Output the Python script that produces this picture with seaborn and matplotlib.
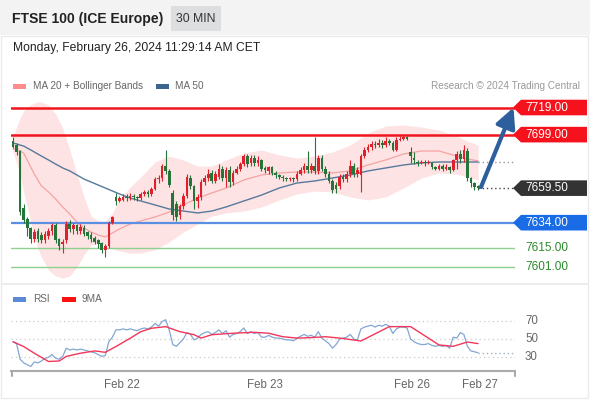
import numpy as np
import pandas as pd
import matplotlib
matplotlib.use("Agg")
import matplotlib.pyplot as plt
import seaborn as sns
from matplotlib.patches import Rectangle, Polygon
from matplotlib.transforms import blended_transform_factory

sns.set_theme(style="white")
plt.rcParams['font.family'] = ['Liberation Sans', 'DejaVu Sans']

# ---------------- data ----------------
opens = [7694, 7691, 7687, 7645, 7637, 7630, 7622, 7628, 7625, 7621,
         7624, 7628, 7632, 7622, 7618, 7621, 7633, 7629, 7632, 7628,
         7630, 7627, 7625, 7623, 7621, 7619, 7614, 7617, 7634, 7653,
         7650, 7651, 7653, 7652, 7654, 7653, 7652, 7655, 7657, 7655,
         7659, 7666, 7667, 7676, 7672, 7656, 7648, 7640, 7646, 7654,
         7667, 7661, 7650, 7653, 7664, 7667, 7671, 7665, 7668, 7674,
         7667, 7673, 7664, 7671, 7674, 7677, 7683, 7678, 7682, 7678,
         7680, 7674, 7672, 7675, 7671, 7669, 7668, 7667, 7666, 7667,
         7666, 7670, 7673, 7676, 7673, 7676, 7672, 7682, 7674, 7670,
         7665, 7662, 7661, 7668, 7666, 7670, 7676, 7670, 7669, 7683,
         7688, 7690, 7692, 7691, 7693, 7691, 7694, 7693, 7688, 7695,
         7696, 7697, 7686, 7682, 7679, 7678, 7679, 7678, 7678, 7675,
         7674, 7676, 7674, 7675, 7673, 7680, 7685, 7681, 7687, 7667,
         7663, 7661]
closes = [7690, 7686, 7642, 7636, 7630, 7622, 7627, 7622, 7621, 7626,
          7628, 7632, 7621, 7617, 7620, 7633, 7629, 7632, 7628, 7631,
          7626, 7624, 7622, 7620, 7618, 7614, 7617, 7634, 7638, 7650,
          7652, 7653, 7652, 7654, 7653, 7652, 7655, 7657, 7655, 7659,
          7666, 7667, 7676, 7672, 7662, 7640, 7638, 7646, 7654, 7668,
          7661, 7650, 7653, 7664, 7667, 7670, 7665, 7670, 7674, 7667,
          7673, 7664, 7671, 7674, 7677, 7683, 7677, 7682, 7678, 7680,
          7674, 7673, 7675, 7671, 7669, 7668, 7667, 7666, 7667, 7666,
          7670, 7673, 7676, 7673, 7676, 7672, 7682, 7674, 7670, 7665,
          7658, 7659, 7668, 7666, 7670, 7676, 7670, 7673, 7683, 7688,
          7690, 7692, 7691, 7693, 7691, 7694, 7693, 7688, 7695, 7696,
          7697, 7696, 7683, 7680, 7678, 7679, 7678, 7678.5, 7675, 7674,
          7676, 7674, 7675, 7673, 7680, 7685, 7681, 7688, 7667, 7663,
          7660, 7659.5]
highs = [7697, 7693, 7688, 7648, 7638, 7631, 7629, 7630, 7627, 7628,
         7630, 7634, 7634, 7623, 7622, 7635, 7636, 7634, 7633, 7633,
         7632, 7628, 7627, 7624, 7622, 7620, 7618, 7635, 7639, 7656,
         7654, 7655, 7655, 7656, 7655, 7654, 7657, 7658, 7658, 7660,
         7668, 7669, 7677, 7688, 7674, 7658, 7650, 7648, 7656, 7670,
         7669, 7662, 7655, 7666, 7669, 7674, 7673, 7672, 7677, 7676,
         7675, 7676, 7673, 7676, 7679, 7685, 7685, 7684, 7684, 7683,
         7681, 7676, 7676, 7676, 7672, 7670, 7669, 7668, 7668, 7668,
         7672, 7675, 7678, 7687, 7678, 7697, 7684, 7684, 7676, 7672,
         7666, 7664, 7670, 7670, 7672, 7680, 7678, 7675, 7685, 7690,
         7692, 7694, 7694, 7696, 7695, 7697, 7696, 7694, 7697, 7698,
         7699, 7698, 7690, 7686, 7680, 7680, 7680, 7680, 7679, 7676,
         7677, 7677, 7677, 7676, 7681, 7687, 7688, 7691, 7689, 7668,
         7664, 7662]
lows = [7689, 7684, 7640, 7634, 7624, 7619, 7620, 7620, 7619, 7619,
        7622, 7625, 7619, 7614, 7612, 7619, 7627, 7626, 7626, 7626,
        7624, 7622, 7620, 7618, 7615, 7612, 7609, 7615, 7633, 7647,
        7649, 7650, 7650, 7651, 7651, 7650, 7651, 7654, 7653, 7654,
        7658, 7663, 7665, 7670, 7660, 7636, 7635, 7637, 7644, 7652,
        7659, 7644, 7645, 7651, 7662, 7665, 7663, 7663, 7666, 7665,
        7660, 7660, 7662, 7670, 7672, 7676, 7675, 7676, 7676, 7676,
        7672, 7671, 7670, 7669, 7667, 7666, 7665, 7665, 7665, 7664,
        7665, 7669, 7671, 7671, 7671, 7670, 7670, 7672, 7668, 7663,
        7656, 7656, 7659, 7664, 7664, 7668, 7668, 7668, 7657, 7682,
        7686, 7688, 7689, 7690, 7689, 7690, 7691, 7687, 7687, 7694,
        7695, 7695, 7678, 7677, 7676, 7677, 7676, 7677, 7674, 7673,
        7673, 7672, 7673, 7671, 7672, 7674, 7678, 7679, 7665, 7660,
        7658, 7658]

ind_idx = [0, 1, 2, 3, 4, 5, 6, 7, 8, 10, 12, 14, 16, 18, 20, 22, 24, 26, 28, 30,
           33, 36, 40, 44, 48, 52, 56, 60, 65, 70, 75, 80, 85, 90, 95, 100, 105,
           110, 115, 120, 125, 128, 131]
bb_upper = [7696.5, 7704.6, 7711.3, 7716.4, 7719.4, 7720.9, 7722.3, 7723.1, 7723.1,
            7720.9, 7714.2, 7703.9, 7687.7, 7669.9, 7653.0, 7638.9, 7635.3, 7635.3,
            7641.2, 7650.8, 7660.3, 7667.7, 7678.8, 7683.2, 7680.3, 7675.8, 7675.8,
            7680.3, 7685.4, 7687.7, 7684.0, 7681.7, 7683.2, 7686.2, 7691.3, 7700.2,
            7705.4, 7706.1, 7704.6, 7702.4, 7698.0, 7694.3, 7691.3]
bb_lower = [7686.2, 7678.1, 7669.2, 7656.7, 7645.6, 7634.5, 7624.2, 7615.3, 7608.7,
            7599.1, 7594.7, 7593.2, 7594.7, 7601.3, 7610.2, 7617.5, 7619.0, 7617.5,
            7614.6, 7613.1, 7611.6, 7611.6, 7613.9, 7619.8, 7627.1, 7633.0, 7638.9,
            7641.2, 7642.6, 7645.6, 7650.8, 7655.2, 7657.4, 7656.7, 7653.0, 7650.8,
            7653.0, 7659.6, 7667.0, 7670.7, 7669.9, 7667.7, 7665.5]
ma20 = [7688.4, 7687.7, 7686.9, 7685.4, 7680.3, 7675.1, 7669.9, 7665.5, 7661.1,
        7656.7, 7651.5, 7645.6, 7640.4, 7634.5, 7630.1, 7627.1, 7624.9, 7623.4,
        7626.4, 7629.4, 7633.0, 7635.3, 7638.2, 7641.9, 7647.1, 7652.2, 7655.9,
        7659.6, 7665.5, 7669.2, 7670.7, 7671.4, 7671.4, 7670.7, 7672.2, 7676.6,
        7680.3, 7684.7, 7686.9, 7686.9, 7683.2, 7681.0, 7679.6]
ma50 = [7692.8, 7692.1, 7691.3, 7690.6, 7689.1, 7687.7, 7686.2, 7684.7, 7683.2,
        7680.3, 7677.3, 7674.4, 7672.2, 7669.2, 7666.2, 7664.0, 7661.8, 7659.6,
        7657.4, 7655.2, 7652.2, 7650.0, 7647.1, 7644.1, 7642.6, 7641.2, 7642.6,
        7645.6, 7650.0, 7654.4, 7659.6, 7663.3, 7664.8, 7667.0, 7669.2, 7672.2,
        7674.4, 7676.6, 7678.1, 7678.8, 7678.8, 7678.8, 7678.8]

rsi = [47, 45, 28, 24, 22, 20, 25, 24, 26, 29,
       30, 33, 29, 28, 31, 40, 38, 39, 38, 39,
       38, 37, 36, 35, 33, 31, 32, 47, 52, 60,
       60, 61, 60, 61, 60, 59, 61, 62, 61, 63,
       67, 64, 69, 71, 60, 44, 42, 46, 50, 57,
       55, 49, 51, 55, 57, 58, 55, 57, 60, 56,
       59, 52, 55, 56, 58, 62, 56, 58, 56, 57,
       52, 52, 54, 52, 51, 51, 50, 49, 49, 48,
       51, 53, 55, 53, 54, 52, 58, 51, 48, 45,
       40, 44, 50, 51, 52, 55, 50, 49, 61, 63,
       64, 65, 63, 65, 64, 66, 64, 56, 61, 63,
       63, 62, 50, 47, 45, 44, 44, 45, 43, 42,
       43, 42, 43, 40, 52, 51, 57, 55, 42, 37,
       36, 35]
rsi_ma_idx = [0, 3, 6, 10, 13, 15, 19, 23, 26, 29, 33, 36, 39, 43, 47, 51, 53, 56, 62, 68,
              72, 76, 80, 84, 88, 92, 98, 106, 112, 117, 120, 124, 128, 131]
rsi_ma = [47, 41.8, 34.5, 25.5, 26, 31, 34.5, 37, 35.5, 41.8, 50.8, 58, 61.7, 63.5,
          58, 54.7, 51, 54.7, 56.3, 57.3, 56.3, 52.5, 51, 51.5, 52.5, 51, 47.8, 63.5,
          63.5, 51, 43.5, 42, 46.7, 45]

resistances = [7719.00, 7699.00]
pivot = 7634.00
supports = [7615.00, 7601.00]
last_price = 7659.50
target = 7719.00
date_labels = ["Feb 22", "Feb 23", "Feb 26", "Feb 27"]
date_pos = [30.7, 71.0, 112.4, 131.5]
rsi_levels = [70, 50, 30]

# ---------------- figure ----------------
W, H = 590, 400
fig = plt.figure(figsize=(W / 100, H / 100), dpi=100)
fig.patch.set_facecolor("white")


def fx(px):
    return px / W


def fy(py):
    return 1 - py / H


# header
fig.patches.append(Rectangle((0, fy(35)), 1, 35 / H, transform=fig.transFigure,
                             facecolor="#f3f3f3", edgecolor="none", zorder=0))
fig.patches.append(Rectangle((fx(171), fy(31)), 50 / W, 25 / H, transform=fig.transFigure,
                             facecolor="#dcdee0", edgecolor="none", zorder=1))
fig.text(fx(12), fy(19), "FTSE 100 (ICE Europe)", fontsize=10.1, fontweight="bold",
         color="#222222", va="center", ha="left")
fig.text(fx(196), fy(19), "30 MIN", fontsize=8.8, color="#333333", va="center", ha="center")
fig.text(fx(13), fy(48), "Monday, February 26, 2024 11:29:14 AM CET", fontsize=8.7,
         color="#222222", va="center", ha="left")
# container frame & separator
fig.patches.append(Rectangle((fx(1), fy(398)), 587 / W, 362 / H, transform=fig.transFigure,
                             facecolor="none", edgecolor="#ebebeb", lw=1, zorder=0))
fig.patches.append(Rectangle((fx(1), fy(285)), 587 / W, 2 / H, transform=fig.transFigure,
                             facecolor="#ececec", edgecolor="none", zorder=0))

# legends
fig.patches.append(Rectangle((fx(13), fy(88.5)), 13 / W, 5 / H, transform=fig.transFigure,
                             facecolor="#ff8c8c", edgecolor="none"))
fig.text(fx(33), fy(86), "MA 20 + Bollinger Bands", fontsize=7.2, color="#666666", va="center")
fig.patches.append(Rectangle((fx(156), fy(88.5)), 13 / W, 5 / H, transform=fig.transFigure,
                             facecolor="#3b6590", edgecolor="none"))
fig.text(fx(175), fy(86), "MA 50", fontsize=7.2, color="#666666", va="center")
fig.text(fx(580), fy(86), "Research \u00a9 2024 Trading Central", fontsize=7.2,
         color="#999999", va="center", ha="right")

fig.patches.append(Rectangle((fx(13), fy(301.5)), 13 / W, 5 / H, transform=fig.transFigure,
                             facecolor="#5b8ad6", edgecolor="none"))
fig.text(fx(33), fy(299), "RSI", fontsize=7.2, color="#666666", va="center")
fig.patches.append(Rectangle((fx(62), fy(301.5)), 14 / W, 5 / H, transform=fig.transFigure,
                             facecolor="#ff1010", edgecolor="none"))
fig.text(fx(82), fy(299), "9MA", fontsize=7.2, color="#666666", va="center")

# ---------------- main price axes ----------------
PX_PER_BAR = 3.55
X0 = 13


def idx_of(px):
    return (px - X0) / PX_PER_BAR


def price_of(py):
    return 7634 + (222.7 - py) / 1.355


ax = fig.add_axes([fx(11), fy(283), 504 / W, (283 - 92) / H])
ax.set_xlim(idx_of(11), idx_of(515))
ax.set_ylim(price_of(283), price_of(92))
ax.axis("off")

df_ind = pd.DataFrame({"idx": ind_idx, "upper": bb_upper, "lower": bb_lower,
                       "ma20": ma20, "ma50": ma50})
ax.fill_between(df_ind["idx"], df_ind["lower"], df_ind["upper"], color="#fde3e3",
                lw=0, zorder=1)
sns.lineplot(data=df_ind, x="idx", y="ma20", ax=ax, color="#f5a3a3", lw=0.9, zorder=2)
sns.lineplot(data=df_ind, x="idx", y="ma50", ax=ax, color="#57799c", lw=1.0, zorder=2)
ax.axis("off")

# levels
for r in resistances:
    ax.axhline(r, color="#f0151d", lw=1.8, zorder=3)
ax.axhline(pivot, color="#5b8fe3", lw=1.6, zorder=3)
for s in supports:
    ax.axhline(s, color="#8fcf8f", lw=1.0, zorder=3)

# candles
df = pd.DataFrame({"o": opens, "h": highs, "l": lows, "c": closes})
df["i"] = np.arange(len(df))
up = df["c"] >= df["o"]
cols = np.where(up, "#e0202b", "#25743a")
ax.vlines(df["i"], df["l"], df["h"], colors=cols, lw=0.8, zorder=4)
body = (df["c"] - df["o"]).abs().clip(lower=0.6)
ax.bar(df["i"], body, bottom=np.minimum(df["o"], df["c"]), width=0.75, color=cols,
       lw=0, zorder=5)

# dotted continuation lines
n = len(df) - 1
ax.plot([n, idx_of(513)], [last_price, last_price], color="#444444", lw=1,
        ls=(0, (1, 2)), clip_on=False, zorder=4)
ax.plot([n, idx_of(515)], [ma50[-1], ma50[-1]], color="#999999", lw=1,
        ls=(0, (1, 2)), clip_on=False, zorder=4)

# arrow
ax.annotate("", xy=(idx_of(513.5), target), xytext=(idx_of(481), price_of(187)),
            arrowprops=dict(arrowstyle="-|>,head_length=1.0,head_width=0.5",
                            color="#2c5f9c", lw=3, shrinkA=0, shrinkB=0),
            annotation_clip=False, zorder=6)

# right labels
tr = blended_transform_factory(fig.transFigure, ax.transData)
hh = 7.8 / 1.355


def tag(p, face, text, tcolor="white"):
    pts = [(fx(513), p), (fx(521), p + hh), (fx(587), p + hh), (fx(587), p - hh),
           (fx(521), p - hh)]
    ax.add_patch(Polygon(pts, closed=True, transform=tr, facecolor=face,
                         edgecolor="none", clip_on=False, zorder=7))
    ax.text(fx(525), p, text, transform=tr, color=tcolor, fontsize=8.5, va="center",
            ha="left", zorder=8, clip_on=False)


for r in resistances:
    tag(r, "#f5121c", f"{r:.2f}")
tag(last_price, "#333333", f"{last_price:.2f}")
tag(pivot, "#1a6be6", f"{pivot:.2f}")
for s in supports:
    ax.text(fx(525), s, f"{s:.2f}", transform=tr, color="#2a8a2a", fontsize=8.5,
            va="center", ha="left", clip_on=False)

# ---------------- RSI axes ----------------
def rsi_of(py):
    return 50 + (339 - py) / 0.917


ax2 = fig.add_axes([fx(11), fy(371), 504 / W, (371 - 305) / H])
ax2.set_xlim(idx_of(11), idx_of(515))
ylo, yhi = rsi_of(371), rsi_of(305)
ax2.set_ylim(ylo, yhi)
for s in ["top", "right", "left"]:
    ax2.spines[s].set_visible(False)
ax2.spines["bottom"].set_color("#aaaaaa")
ax2.spines["bottom"].set_linewidth(1.5)
ax2.set_facecolor("none")
ax2.set_yticks([])
for lv in rsi_levels:
    ax2.axhline(lv, color="#cccccc", lw=0.9, ls=(0, (1, 2.5)), zorder=1)

df_rsi = pd.DataFrame({"i": np.arange(len(rsi)), "rsi": rsi})
df_rma = pd.DataFrame({"i": rsi_ma_idx, "ma": rsi_ma})
sns.lineplot(data=df_rsi, x="i", y="rsi", ax=ax2, color="#82a6d4", lw=0.9, zorder=3)
sns.lineplot(data=df_rma, x="i", y="ma", ax=ax2, color="#f2375a", lw=1.0, zorder=4)
ax2.plot([len(rsi) - 1, idx_of(515)], [rsi[-1], rsi[-1]], color="#9fb4cc", lw=1,
         ls=(0, (1, 2)), clip_on=False, zorder=3)
ax2.set_xlabel("")
ax2.set_ylabel("")
ax2.set_xticks(date_pos)
ax2.set_xticklabels(date_labels)
ax2.tick_params(axis="x", length=0, pad=6, labelsize=8.3, labelcolor="#666666")
ax2.tick_params(axis="y", left=False, labelleft=False)
# end ticks
tick_len = 5 / 0.917
for xe in [idx_of(11.7), idx_of(515)]:
    ax2.plot([xe, xe], [ylo, ylo - tick_len], color="#aaaaaa", lw=1.5, clip_on=False)
tr2 = blended_transform_factory(fig.transFigure, ax2.transData)
for lv in rsi_levels:
    ax2.text(fx(525), lv, f"{lv}", transform=tr2, color="#666666", fontsize=8.3,
             va="center", ha="left", clip_on=False)

fig.savefig("out.png", dpi=100)
